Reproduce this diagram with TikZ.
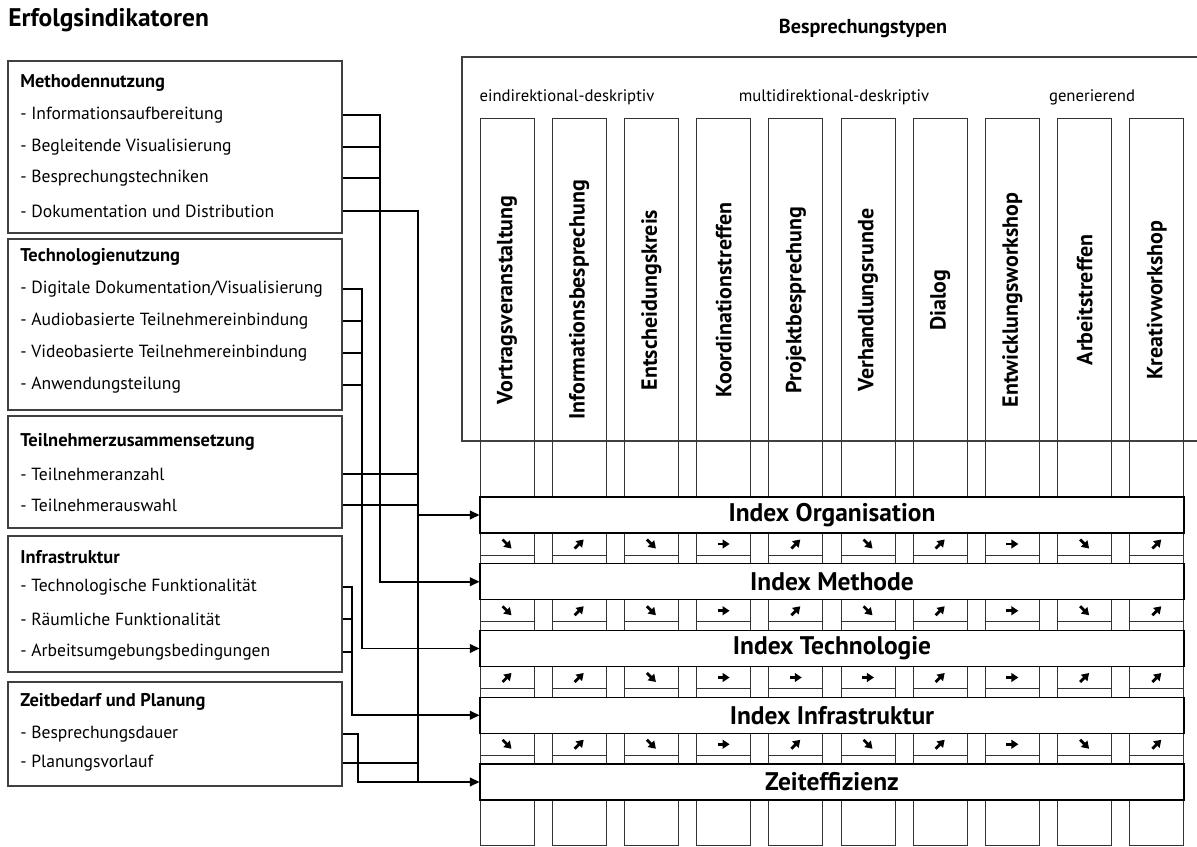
\documentclass[tikz,border=0pt]{standalone}
\usepackage{fontspec}
\setmainfont{PT Sans}
\usetikzlibrary{arrows,arrows.meta,fit}

% one row of trend cells under index bar #1, entries dx/dy
\newcommand\trendrow[2]{%
  \foreach \dx/\dy [count=\i from 0] in {#2} {
    \draw[cell line] ({480+72.2*\i},{555+66.75*#1}) -- ++(54,0);
    \coordinate (a#1\i) at ({507+72.2*\i},{544+66.75*#1});
    \draw[trend] ([shift={(-\dx,-\dy)}]a#1\i) -- ++({2*\dx},{2*\dy});
  }}

\begin{document}
\begin{tikzpicture}[x=0.02cm,y=-0.02cm,>={Triangle[length=5.5pt,width=5pt]},
  grp box/.style={draw=black!75,line width=0.6pt,inner sep=0pt},
  grp title/.style={anchor=west,inner sep=0pt,font=\bfseries\fontsize{10.5}{12}\selectfont},
  item/.style={anchor=west,inner sep=0pt,font=\fontsize{10}{12}\selectfont},
  head/.style={inner sep=0pt,font=\bfseries\fontsize{14.5}{16}\selectfont},
  sub/.style={inner sep=0pt,font=\fontsize{9.5}{11}\selectfont},
  col box/.style={draw=black!80,line width=0.5pt,minimum width=1.08cm,minimum height=14.56cm,inner sep=0pt},
  col label/.style={rotate=90,inner sep=0pt,font=\bfseries\fontsize{12.5}{14}\selectfont},
  index bar/.style={draw,fill=white,line width=0.7pt,minimum width=14.08cm,minimum height=0.72cm,inner sep=0pt,font=\bfseries\fontsize{14.5}{16}\selectfont},
  cell line/.style={draw=black!80,line width=0.5pt},
  trend/.style={line width=1.6pt,-{Triangle[length=4pt,width=5pt]}},
  link/.style={line width=1.1pt}]
  \useasboundingbox (0,0) rectangle (1197,847);

  \node[head,anchor=west] (h1) at (8,20) {Erfolgsindikatoren};
  \node[head,font=\bfseries\fontsize{11.5}{14}\selectfont] (h2) at (863,28) {Besprechungstypen};

  % meeting types
  \node[grp box,fit={(462,57) (1230,441)}] (types) {};
  \node[sub] (s1) at (567,97) {eindirektional-deskriptiv};
  \node[sub] (s2) at (834,97) {multidirektional-deskriptiv};
  \node[sub] (s3) at (1092,97) {generierend};
  \foreach \name [count=\i from 0] in {Vortragsveranstaltung,Informationsbesprechung,
      Entscheidungskreis,Koordinationstreffen,Projektbesprechung,Verhandlungsrunde,
      Dialog,Entwicklungsworkshop,Arbeitstreffen,Kreativworkshop} {
    \node[col box] (c\i) at ({507+72.2*\i},482) {};
    \node[col label] (l\i) at ({507+72.2*\i},300) {\name};
  }

  \node[index bar] (org) at (832,515) {Index Organisation};
  \node[index bar] (met) at (832,581.75) {Index Methode};
  \node[index bar] (tec) at (832,648.5) {Index Technologie};
  \node[index bar] (inf) at (832,715.25) {Index Infrastruktur};
  \node[index bar] (zeit) at (832,782) {Zeiteffizienz};

  % S = falling, N = rising, E = steady
  \trendrow{0}{4.5/4.5,4.5/-4.5,4.5/4.5,6/0,4.5/-4.5,4.5/4.5,4.5/-4.5,6/0,4.5/4.5,4.5/-4.5}
  \trendrow{1}{4.5/4.5,4.5/-4.5,4.5/4.5,6/0,4.5/-4.5,4.5/4.5,4.5/-4.5,6/0,4.5/4.5,4.5/-4.5}
  \trendrow{2}{4.5/-4.5,4.5/-4.5,4.5/4.5,6/0,6/0,6/0,4.5/-4.5,6/0,4.5/-4.5,4.5/-4.5}
  \trendrow{3}{4.5/4.5,4.5/-4.5,4.5/4.5,6/0,4.5/-4.5,4.5/4.5,4.5/-4.5,6/0,4.5/4.5,4.5/-4.5}

  % success indicators
  \node[grp box,fit={(8,61) (342,233)}] (gm) {};
  \node[grp title] (gm0) at (20,83) {Methodennutzung};
  \node[item] (m1) at (20,115) {- Informationsaufbereitung};
  \node[item] (m2) at (20,147) {- Begleitende Visualisierung};
  \node[item] (m3) at (20,178) {- Besprechungstechniken};
  \node[item] (m4) at (20,211) {- Dokumentation und Distribution};

  \node[grp box,fit={(8,239) (342,410)}] (gt) {};
  \node[grp title] (gt0) at (20,257) {Technologienutzung};
  \node[item] (t1) at (20,289) {- Digitale Dokumentation/Visualisierung};
  \node[item] (t2) at (20,321) {- Audiobasierte Teilnehmereinbindung};
  \node[item] (t3) at (20,353) {- Videobasierte Teilnehmereinbindung};
  \node[item] (t4) at (20,385) {- Anwendungsteilung};

  \node[grp box,fit={(8,416) (342,528)}] (gp) {};
  \node[grp title] (gp0) at (20,442) {Teilnehmerzusammensetzung};
  \node[item] (p1) at (20,474) {- Teilnehmeranzahl};
  \node[item] (p2) at (20,505) {- Teilnehmerauswahl};

  \node[grp box,fit={(8,536) (342,672)}] (gi) {};
  \node[grp title] (gi0) at (20,557) {Infrastruktur};
  \node[item] (i1) at (20,587) {- Technologische Funktionalität};
  \node[item] (i2) at (20,619) {- Räumliche Funktionalität};
  \node[item] (i3) at (20,652) {- Arbeitsumgebungsbedingungen};

  \node[grp box,fit={(8,682) (342,786)}] (gz) {};
  \node[grp title] (gz0) at (20,702) {Zeitbedarf und Planung};
  \node[item] (z1) at (20,734) {- Besprechungsdauer};
  \node[item] (z2) at (20,763) {- Planungsvorlauf};

  % bus lines
  \coordinate (bi) at (352,0);
  \coordinate (bz) at (358,0);
  \coordinate (bt) at (362,0);
  \coordinate (bm) at (380,0);
  \coordinate (bo) at (418,0);

  \draw[link,->] (m1 -| gm.east) -| (met.west -| bm) -- (met.west);
  \draw[link] (m2 -| gm.east) -- (m2 -| bm);
  \draw[link] (m3 -| gm.east) -- (m3 -| bm);

  \draw[link] (m4 -| gm.east) -| (zeit.west -| bo);
  \draw[link,->] (org.west -| bo) -- (org.west);
  \draw[link] (p1 -| gp.east) -- (p1 -| bo);
  \draw[link] (p2 -| gp.east) -- (p2 -| bo);
  \draw[link] (z2 -| gz.east) -- (z2 -| bo);

  \draw[link,->] (t1 -| gt.east) -| (tec.west -| bt) -- (tec.west);
  \draw[link] (t2 -| gt.east) -- (t2 -| bt);
  \draw[link] (t3 -| gt.east) -- (t3 -| bt);
  \draw[link] (t4 -| gt.east) -- (t4 -| bt);

  \draw[link,->] (i1 -| gi.east) -| (inf.west -| bi) -- (inf.west);
  \draw[link] (i2 -| gi.east) -- (i2 -| bi);
  \draw[link] (i3 -| gi.east) -- (i3 -| bi);

  \draw[link,->] (z1 -| gz.east) -| (zeit.west -| bz) -- (zeit.west);
\end{tikzpicture}
\end{document}
